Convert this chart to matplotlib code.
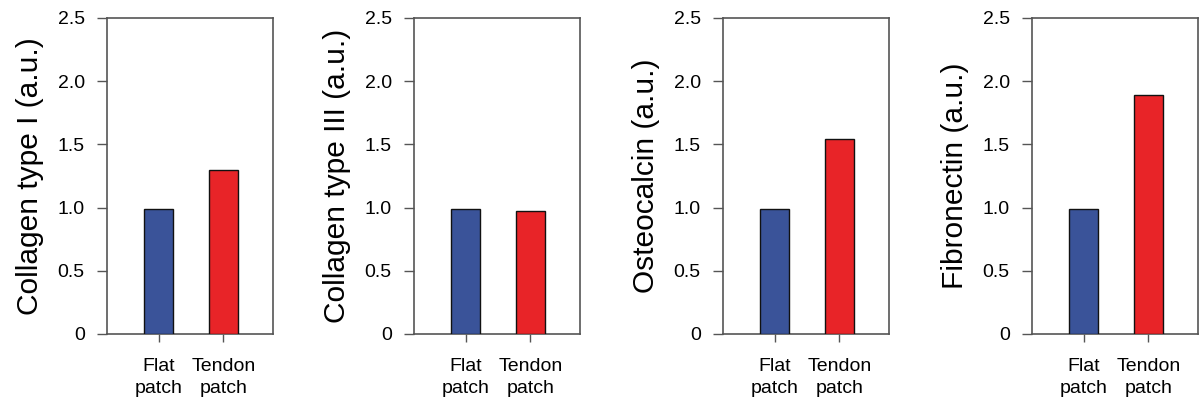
import matplotlib.pyplot as plt
from matplotlib.ticker import FixedLocator, FixedFormatter

plt.rcParams["font.family"] = ["Liberation Sans", "DejaVu Sans"]

groups = ["Flat\npatch", "Tendon\npatch"]
markers = [
    "Collagen type I (a.u.)",
    "Collagen type III (a.u.)",
    "Osteocalcin (a.u.)",
    "Fibronectin (a.u.)",
]
flat_values = [0.99, 0.99, 0.99, 0.99]
tendon_values = [1.30, 0.97, 1.545, 1.89]
y_ticks = [0, 0.5, 1.0, 1.5, 2.0, 2.5]
y_tick_labels = ["0", "0.5", "1.0", "1.5", "2.0", "2.5"]

bar_colors = ["#3a5399", "#e82428"]
spine_color = "#555555"

fig = plt.figure(figsize=(11.99, 4.03), dpi=100)
W, H = 1199, 403
lefts = [107, 414, 723, 1032]
ax_w = 166
top_px, bottom_px = 18, 334

for i, label in enumerate(markers):
    ax = fig.add_axes([
        lefts[i] / W,
        (H - bottom_px) / H,
        ax_w / W,
        (bottom_px - top_px) / H,
    ])
    values = [flat_values[i], tendon_values[i]]
    ax.bar([0, 1], values, width=0.45, color=bar_colors,
           edgecolor="#111111", linewidth=1.0, zorder=3)
    ax.set_xlim(-0.8, 1.77)
    ax.set_ylim(0, 2.5)
    ax.yaxis.set_major_locator(FixedLocator(y_ticks))
    ax.yaxis.set_major_formatter(FixedFormatter(y_tick_labels))
    ax.set_xticks([0, 1])
    ax.set_xticklabels(groups, fontsize=14, linespacing=1.4)
    ax.tick_params(axis="y", direction="out", length=7, width=1,
                   color=spine_color, labelsize=14, pad=9)
    ax.tick_params(axis="x", direction="out", length=6, width=1,
                   color=spine_color, pad=11)
    for spine in ax.spines.values():
        spine.set_color(spine_color)
        spine.set_linewidth(1.2)
    ax.set_ylabel(label, fontsize=21.5, labelpad=10)

fig.savefig("out.png", dpi=100)
